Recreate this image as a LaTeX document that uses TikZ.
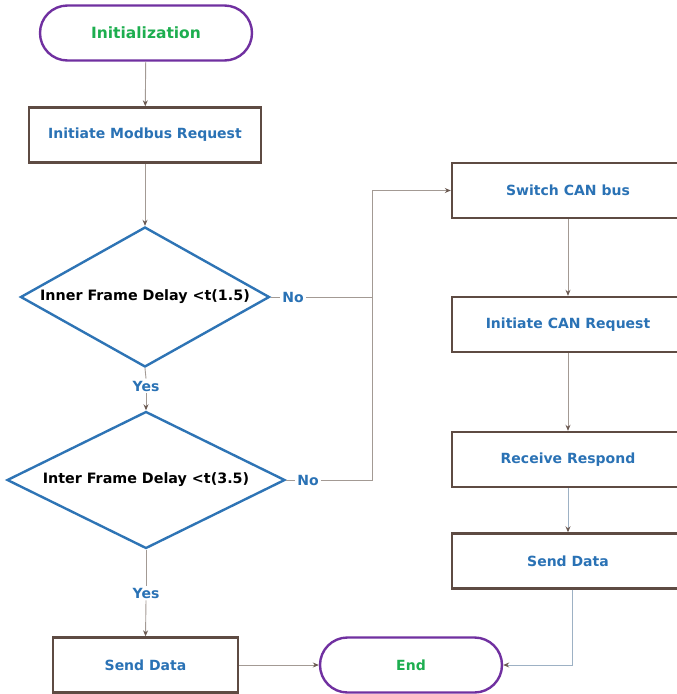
\documentclass[tikz,border=0pt]{standalone}
\usepackage{fontspec}
\setmainfont{DejaVu Sans}
\usetikzlibrary{shapes.geometric,shapes.misc,arrows.meta}
\definecolor{termline}{HTML}{7030A0}
\definecolor{termtext}{HTML}{1DAE4F}
\definecolor{boxline}{HTML}{5E4B43}
\definecolor{boxtext}{HTML}{2A72B5}
\definecolor{decline}{HTML}{2E74B5}
\definecolor{wire}{HTML}{A39A94}
\definecolor{wireblue}{HTML}{9DB1C4}
\definecolor{tipcol}{HTML}{6B5A52}
\tikzset{
  terminal/.style={rounded rectangle, draw=termline, line width=2.4pt, fill=white,
    minimum width=#1, minimum height=55pt, inner sep=0pt,
    text=termtext, font=\bfseries\fontsize{14}{17}\selectfont},
  process/.style={rectangle, draw=boxline, line width=2.4pt, fill=white,
    minimum width=#1, minimum height=55pt, inner sep=0pt,
    text=boxtext, font=\bfseries\fontsize{14}{17}\selectfont},
  decision/.style={diamond, draw=decline, line width=2.4pt, fill=white,
    minimum width=#1, inner sep=0pt},
  dectext/.style={text=black, font=\bfseries\fontsize{14.3}{17}\selectfont, inner sep=0pt},
  answer/.style={text=boxtext, font=\bfseries\fontsize{14}{17}\selectfont,
    fill=white, inner sep=2pt},
  conn/.style={draw=wire, line width=0.9pt},
  arrowed/.style={-{Stealth[length=6pt,width=5pt,color=tipcol]}},
}
\begin{document}
\begin{tikzpicture}[x=1pt,y=-1pt]
\useasboundingbox (0,0) rectangle (677,694);
\clip (0,0) rectangle (677,694);

% left column
\node[terminal=212pt, font=\bfseries\fontsize{15.5}{18}\selectfont] (init) at (146,33) {Initialization};
\node[process=232pt] (modbus) at (145,135) {Initiate Modbus Request};
\node[decision=249pt, minimum height=140pt] (d1) at (145,297) {};
\node[dectext] (d1t) at (145,297) {Inner Frame Delay <t(1.5)};
\node[decision=278pt, minimum height=137pt] (d2) at (146,480) {};
\node[dectext] (d2t) at (146,480) {Inter Frame Delay <t(3.5)};
\node[answer] (yes1) at (146,386) {Yes};
\node[answer] (yes2) at (146,593) {Yes};
\node[answer] (no1) at (293,297) {No};
\node[answer] (no2) at (308,480) {No};
\node[process=185pt] (send1) at (145.5,665) {Send Data};
\node[terminal=182pt] (end) at (411,665) {End};

% right column
\node[process=232pt] (switch) at (568,190.5) {Switch CAN bus};
\node[process=232pt] (canreq) at (568,324.5) {Initiate CAN Request};
\node[process=232pt] (recv) at (568,459.5) {Receive Respond};
\node[process=232pt] (send2) at (568,561) {Send Data};

% junction points of the "No" branches
\coordinate (j1) at (372,297);
\coordinate (j2) at (372,480);

% connectors
\draw[conn,arrowed] (init) -- (modbus);
\draw[conn,arrowed] (modbus) -- (d1);
\draw[conn] (d1.south) -- (yes1.north);
\draw[conn,arrowed] (yes1.south) -- (d2.north);
\draw[conn] (d2.south) -- (yes2.north);
\draw[conn,arrowed] (yes2.south) -- (send1.north);
\draw[conn,arrowed] (send1) -- (end);

\draw[conn] (d1.east) -- (no1.west);
\draw[conn] (no1.east) -- (j1);
\draw[conn] (d2.east) -- (no2.west);
\draw[conn,arrowed] (no2.east) -- (j2) |- (switch.west);

\draw[conn,arrowed] (switch) -- (canreq);
\draw[conn,arrowed] (canreq) -- (recv);
\draw[conn,draw=wireblue,arrowed] (recv) -- (send2);
\draw[conn,draw=wireblue,arrowed] ([xshift=4pt]send2.south) |- (end.east);
\end{tikzpicture}
\end{document}
